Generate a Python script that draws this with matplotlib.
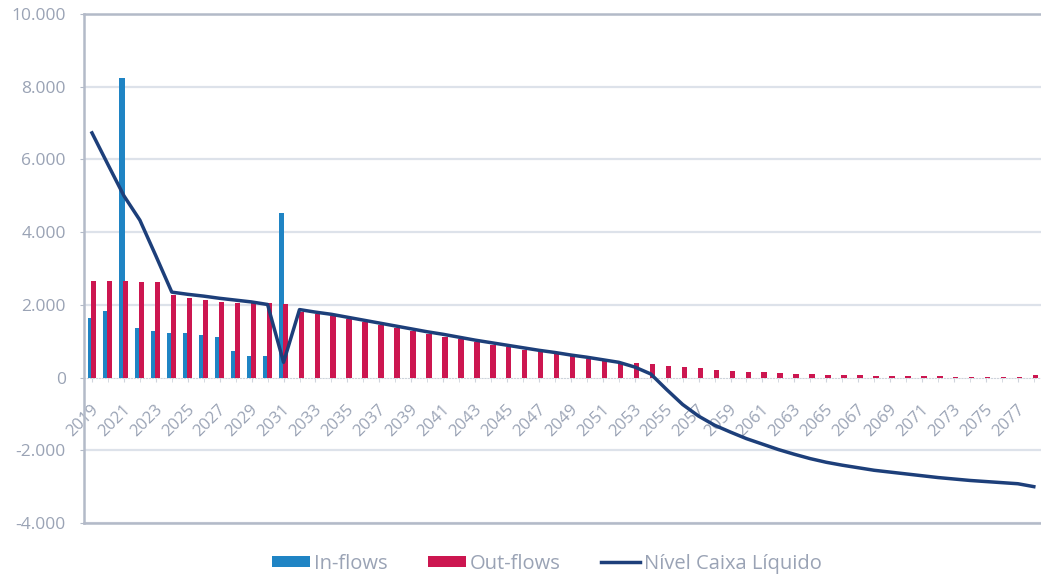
import numpy as np
import matplotlib.pyplot as plt
from matplotlib.ticker import FuncFormatter
from matplotlib.transforms import ScaledTranslation

plt.rcParams['font.family'] = ['Open Sans', 'DejaVu Sans']

# anos do horizonte de projeção
anos = list(range(2019, 2079))

# entradas (milhões)
in_flows = [1650, 1830, 8250, 1370, 1280, 1230, 1220, 1170, 1120, 730,
            580, 580, 4520] + [0] * 47

# saídas (milhões)
out_flows = [2650, 2660, 2660, 2640, 2620, 2270, 2200, 2130, 2090, 2060,
             2040, 2050, 2030, 1800, 1750, 1700, 1620, 1540, 1450, 1370,
             1280, 1200, 1120, 1050, 970, 900, 830, 760, 700, 640,
             580, 520, 460, 420, 390, 360, 320, 300, 260, 220,
             180, 155, 140, 125, 110, 90, 80, 70, 60, 50,
             45, 40, 35, 30, 25, 25, 20, 15, 15, 60]

# nivel de caixa liquido
nivel = [6730, 5860, 5000, 4330, 3350, 2350, 2290, 2240, 2180, 2130,
         2080, 2010, 420, 1870, 1800, 1740, 1660, 1580, 1500, 1420,
         1340, 1260, 1190, 1110, 1030, 960, 890, 820, 750, 690,
         620, 560, 490, 420, 290, 100, -330, -740, -1060, -1310,
         -1500, -1680, -1830, -1980, -2110, -2230, -2330, -2410, -2480, -2550,
         -2600, -2650, -2700, -2750, -2790, -2830, -2860, -2890, -2920, -3000]

cinza = '#9aa3b5'
moldura = '#b3bac8'
cor_in = '#1f84c4'
cor_out = '#cc1650'
cor_linha = '#1d3f7a'

fig = plt.figure(figsize=(10.41, 5.80), dpi=100)
ax = fig.add_axes([84/1041, 57/580, 957/1041, 509/580])

x = np.arange(len(anos))
b_in = ax.bar(x - 0.11, in_flows, width=0.34, color=cor_in, label='In-flows', zorder=2)
b_out = ax.bar(x + 0.11, out_flows, width=0.34, color=cor_out, label='Out-flows', zorder=2)
l_niv, = ax.plot(x, nivel, color=cor_linha, lw=2.5, label='Nível Caixa Líquido', zorder=3,
                 solid_joinstyle='round')

ax.set_xlim(-0.5, 59.45)
ax.set_ylim(-4000, 10000)
ax.set_yticks(range(-4000, 10001, 2000))
ax.yaxis.set_major_formatter(FuncFormatter(lambda v, p: f"{v:,.0f}".replace(',', '.')))
ax.tick_params(axis='y', colors=moldura, labelcolor=cinza, labelsize=12.5, length=3, pad=10)
ax.set_xticks([])

ax.yaxis.grid(True, color='#dde2ea', lw=1.6)
ax.set_axisbelow(True)
ax.get_ygridlines()[2].set_visible(False)

for s in ['left', 'top', 'bottom']:
    ax.spines[s].set_color(moldura)
    ax.spines[s].set_linewidth(1.8)
ax.spines['right'].set_visible(False)

# eixo das categorias na linha do zero
sec = ax.secondary_xaxis(0, transform=ax.transData)
sec.set_xticks(x[::2], [str(a) for a in anos[::2]], rotation=45, ha='right')
sec.set_xticks(x, minor=True)
sec.tick_params(which='both', length=3, color='#cfd4dc', labelcolor=cinza, labelsize=12, pad=14)
sec.spines['bottom'].set_color('#cfd4dc')
sec.spines['bottom'].set_linestyle(':')
desloc = ScaledTranslation(7/72, 0, fig.dpi_scale_trans)
for lbl in sec.get_xticklabels():
    lbl.set_transform(lbl.get_transform() + desloc)

fig.legend([b_in, b_out, l_niv], ['In-flows', 'Out-flows', 'Nível Caixa Líquido'],
           loc='center', bbox_to_anchor=(0.525, 0.028), ncol=3, frameon=False,
           fontsize=14.5, labelcolor=cinza, handlelength=1.9, handleheight=0.5,
           handletextpad=0.2, columnspacing=2.0)

fig.savefig('out.png', dpi=100)
